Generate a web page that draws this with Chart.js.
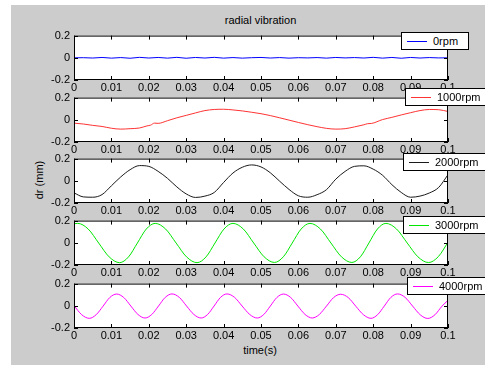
<!DOCTYPE html>
<html>
<head>
<meta charset="utf-8">
<script src="https://cdn.jsdelivr.net/npm/chart.js@4.4.1/dist/chart.umd.min.js"></script>
<style>
  html, body { margin: 0; padding: 0; width: 485px; height: 365px; overflow: hidden; background: #fff; }
  #fig { position: absolute; left: 11px; top: 5px; right: 0; bottom: 0; background: #cccccc; }
  canvas { position: absolute; left: 0; }
  .txt { position: absolute; font: 11px "Liberation Sans", Arial, sans-serif; line-height: 13px; color: #000; white-space: nowrap; }
  .lg { position: absolute; height: 16px; border: 1px solid #000; background: #fff; display: flex; align-items: center;
        padding: 0 10px 0 5px; font: 11px "Liberation Sans", Arial, sans-serif; color: #000; white-space: nowrap; z-index: 5; }
  .lg .ln { display: inline-block; width: 20px; height: 1px; margin-right: 6px; }
</style>
</head>
<body>
<div id="fig"></div>
<div class="txt" style="left:260.5px; top:14px; transform:translateX(-50%);">radial vibration</div>
<div class="txt" style="left:260px; top:344px; transform:translateX(-50%);">time(s)</div>
<div class="txt" style="left:39px; top:180px; transform:translate(-50%,-50%) rotate(-90deg);">dr (mm)</div>

<script>
// series names (one subplot each)
const seriesNames = ['0rpm', '1000rpm', '2000rpm', '3000rpm', '4000rpm'];

// shared time axis for 0rpm / 2000rpm
const tUniform = [0, 0.0025, 0.005, 0.0075, 0.01, 0.0125, 0.015, 0.0175, 0.02, 0.0225,
  0.025, 0.0275, 0.03, 0.0325, 0.035, 0.0375, 0.04, 0.0425, 0.045, 0.0475,
  0.05, 0.0525, 0.055, 0.0575, 0.06, 0.0625, 0.065, 0.0675, 0.07, 0.0725,
  0.075, 0.0775, 0.08, 0.0825, 0.085, 0.0875, 0.09, 0.0925, 0.095, 0.0975, 0.1];

const v0 = [0, 0.001, -0.002, 0.003, -0.003, 0.002, -0.004, 0.004, -0.002, 0.003,
  -0.003, 0.004, -0.004, 0.003, -0.002, 0.004, -0.003, 0.002, -0.003, 0.001,
  0.003, -0.002, 0.002, -0.003, 0.001, -0.001, 0.002, -0.003, 0.003, -0.001,
  0.002, -0.002, 0.004, -0.003, 0.003, -0.004, 0.003, -0.002, 0.002, -0.001, 0];

const t1000 = [0, 0.0025, 0.005, 0.0075, 0.01, 0.0125, 0.015, 0.0175, 0.0195, 0.0205,
  0.0215, 0.0225, 0.025, 0.0275, 0.03, 0.0325, 0.035, 0.0375, 0.04, 0.0425,
  0.045, 0.0475, 0.05, 0.0525, 0.055, 0.0575, 0.06, 0.0625, 0.065, 0.0675,
  0.07, 0.0725, 0.075, 0.0775, 0.0785, 0.0795, 0.0825, 0.085, 0.0875, 0.09,
  0.0925, 0.095, 0.0975, 0.1];
const v1000 = [-0.030, -0.038, -0.050, -0.060, -0.076, -0.084, -0.080, -0.074, -0.055, -0.048,
  -0.030, -0.032, -0.008, 0.018, 0.040, 0.062, 0.083, 0.093, 0.095, 0.089,
  0.080, 0.068, 0.055, 0.038, 0.018, -0.003, -0.024, -0.044, -0.062, -0.077,
  -0.084, -0.080, -0.064, -0.045, -0.035, -0.033, 0.002, 0.022, 0.044, 0.064,
  0.083, 0.093, 0.091, 0.075];

const v2000 = [-0.109, -0.145, -0.148, -0.124, -0.045, 0.035, 0.100, 0.137, 0.130, 0.085,
  0.022, -0.055, -0.118, -0.150, -0.138, -0.105, -0.015, 0.070, 0.122, 0.143,
  0.125, 0.072, -0.004, -0.078, -0.135, -0.148, -0.125, -0.080, 0.015, 0.085,
  0.130, 0.135, 0.105, 0.050, -0.035, -0.105, -0.148, -0.138, -0.110, -0.060, 0.055];

// 3000 / 4000 rpm: peaks, troughs, crossings and half-way points
const t3000 = [0, 0.001, 0.0038, 0.0066, 0.0094, 0.0122, 0.01458, 0.01695, 0.01933, 0.0217,
  0.0245, 0.0273, 0.0301, 0.0329, 0.0353, 0.0377, 0.0401, 0.0425, 0.04528, 0.04805,
  0.05083, 0.0536, 0.05598, 0.05835, 0.06073, 0.0631, 0.0659, 0.0687, 0.0715, 0.0743,
  0.07658, 0.07885, 0.08113, 0.0834, 0.08625, 0.0891, 0.09195, 0.0948, 0.0974, 0.1];
const v3000 = [0.172, 0.175, 0.124, -0.002, -0.127, -0.179, -0.127, -0.002, 0.124, 0.175,
  0.124, -0.002, -0.127, -0.179, -0.127, -0.002, 0.124, 0.175, 0.124, -0.002,
  -0.126, -0.177, -0.126, -0.002, 0.124, 0.175, 0.124, -0.002, -0.126, -0.177,
  -0.126, -0.002, 0.124, 0.175, 0.124, -0.002, -0.126, -0.178, -0.125, 0.005];

const t4000 = [0, 0.00205, 0.0041, 0.00593, 0.00775, 0.00958, 0.0114, 0.0133, 0.0152, 0.0171,
  0.019, 0.0208, 0.0226, 0.0244, 0.0262, 0.02815, 0.0301, 0.03205, 0.034, 0.03573,
  0.03745, 0.03918, 0.0409, 0.04293, 0.04495, 0.04698, 0.049, 0.05075, 0.0525, 0.05425,
  0.056, 0.05793, 0.05985, 0.06178, 0.0637, 0.0656, 0.0675, 0.0694, 0.0713, 0.07333,
  0.07535, 0.07738, 0.0794, 0.08118, 0.08295, 0.08473, 0.0865, 0.08853, 0.09055, 0.09258,
  0.0946, 0.0965, 0.0984, 0.1];
const v4000 = [0.002, -0.080, -0.113, -0.080, -0.004, 0.075, 0.106, 0.075, -0.002, -0.078,
  -0.110, -0.078, -0.002, 0.076, 0.107, 0.076, -0.002, -0.078, -0.110, -0.078,
  -0.002, 0.076, 0.107, 0.076, -0.002, -0.078, -0.110, -0.078, -0.002, 0.075,
  0.106, 0.075, -0.002, -0.078, -0.110, -0.078, -0.003, 0.074, 0.104, 0.074,
  -0.004, -0.080, -0.113, -0.080, -0.003, 0.076, 0.107, 0.076, -0.003, -0.081,
  -0.114, -0.081, -0.003, 0.05];

const seriesTimes = [tUniform, t1000, tUniform, t3000, t4000];
const seriesValues = [v0, v1000, v2000, v3000, v4000];

// styles / layout
const lineColors = ['#0000ff', '#ff3333', '#1a1a1a', '#00e600', '#ff00ff'];
const plotTops = [33, 95, 156, 218, 281];
const legendPos = [[401, 32], [405, 88], [403, 153], [403, 216], [407, 277]];

Chart.defaults.font.family = '"Liberation Sans", Arial, sans-serif';
Chart.defaults.font.size = 11;
Chart.defaults.color = '#000';

// white axes area, black box and inward tick marks (matlab look)
const boxPlugin = {
  id: 'matlabBox',
  beforeDraw(chart) {
    const a = chart.chartArea, ctx = chart.ctx;
    ctx.save();
    ctx.fillStyle = '#fff';
    ctx.fillRect(a.left, a.top, a.right - a.left, a.bottom - a.top);
    ctx.restore();
  },
  afterDraw(chart) {
    const a = chart.chartArea, ctx = chart.ctx;
    const xs = chart.scales.x, ys = chart.scales.y;
    ctx.save();
    ctx.strokeStyle = '#000';
    ctx.lineWidth = 1;
    ctx.beginPath();
    xs.ticks.forEach(tk => {
      const px = Math.round(xs.getPixelForValue(tk.value)) + 0.5;
      ctx.moveTo(px, a.top); ctx.lineTo(px, a.top + 4);
      ctx.moveTo(px, a.bottom); ctx.lineTo(px, a.bottom - 4);
    });
    ys.ticks.forEach(tk => {
      const py = Math.round(ys.getPixelForValue(tk.value)) + 0.5;
      ctx.moveTo(a.left, py); ctx.lineTo(a.left + 4, py);
      ctx.moveTo(a.right, py); ctx.lineTo(a.right - 4, py);
    });
    ctx.stroke();
    ctx.strokeRect(a.left + 0.5, a.top + 0.5, a.right - a.left - 1, a.bottom - a.top - 1);
    ctx.restore();
  }
};

function makeSubplot(idx) {
  const cv = document.createElement('canvas');
  cv.width = 485;
  cv.height = 73;
  cv.style.top = (plotTops[idx] - 8) + 'px';
  document.body.appendChild(cv);

  const times = seriesTimes[idx];
  const vals = seriesValues[idx];

  return new Chart(cv.getContext('2d'), {
    type: 'line',
    data: {
      datasets: [{
        label: seriesNames[idx],
        data: times.map((t, i) => ({ x: t, y: vals[i] })),
        borderColor: lineColors[idx],
        borderWidth: 1,
        pointRadius: 0,
        fill: false,
        cubicInterpolationMode: idx === 0 ? 'default' : 'monotone',
        tension: 0
      }]
    },
    options: {
      responsive: false,
      animation: false,
      devicePixelRatio: 1,
      layout: { padding: { top: 8, right: 37, left: 0, bottom: 0 } },
      plugins: { legend: { display: false }, tooltip: { enabled: false } },
      scales: {
        x: {
          type: 'linear', min: 0, max: 0.1,
          afterFit: s => { s.height = 18; },
          grid: { display: false, drawTicks: false },
          border: { display: false },
          ticks: { stepSize: 0.01, autoSkip: false, maxRotation: 0, padding: 1,
                   callback: v => String(+v.toFixed(2)) }
        },
        y: {
          min: -0.2, max: 0.2,
          afterFit: s => { s.width = 74; },
          grid: { display: false, drawTicks: false },
          border: { display: false },
          ticks: { stepSize: 0.2, padding: 4, callback: v => String(+v.toFixed(1)) }
        }
      }
    },
    plugins: [boxPlugin]
  });
}

function makeLegend(idx) {
  const box = document.createElement('div');
  box.className = 'lg';
  box.style.left = legendPos[idx][0] + 'px';
  box.style.top = legendPos[idx][1] + 'px';
  const ln = document.createElement('span');
  ln.className = 'ln';
  ln.style.background = lineColors[idx];
  const tx = document.createElement('span');
  tx.innerText = seriesNames[idx];
  box.appendChild(ln);
  box.appendChild(tx);
  document.body.appendChild(box);
}

seriesNames.forEach((n, i) => {
  makeSubplot(i);
  makeLegend(i);
});
</script>
</body>
</html>
